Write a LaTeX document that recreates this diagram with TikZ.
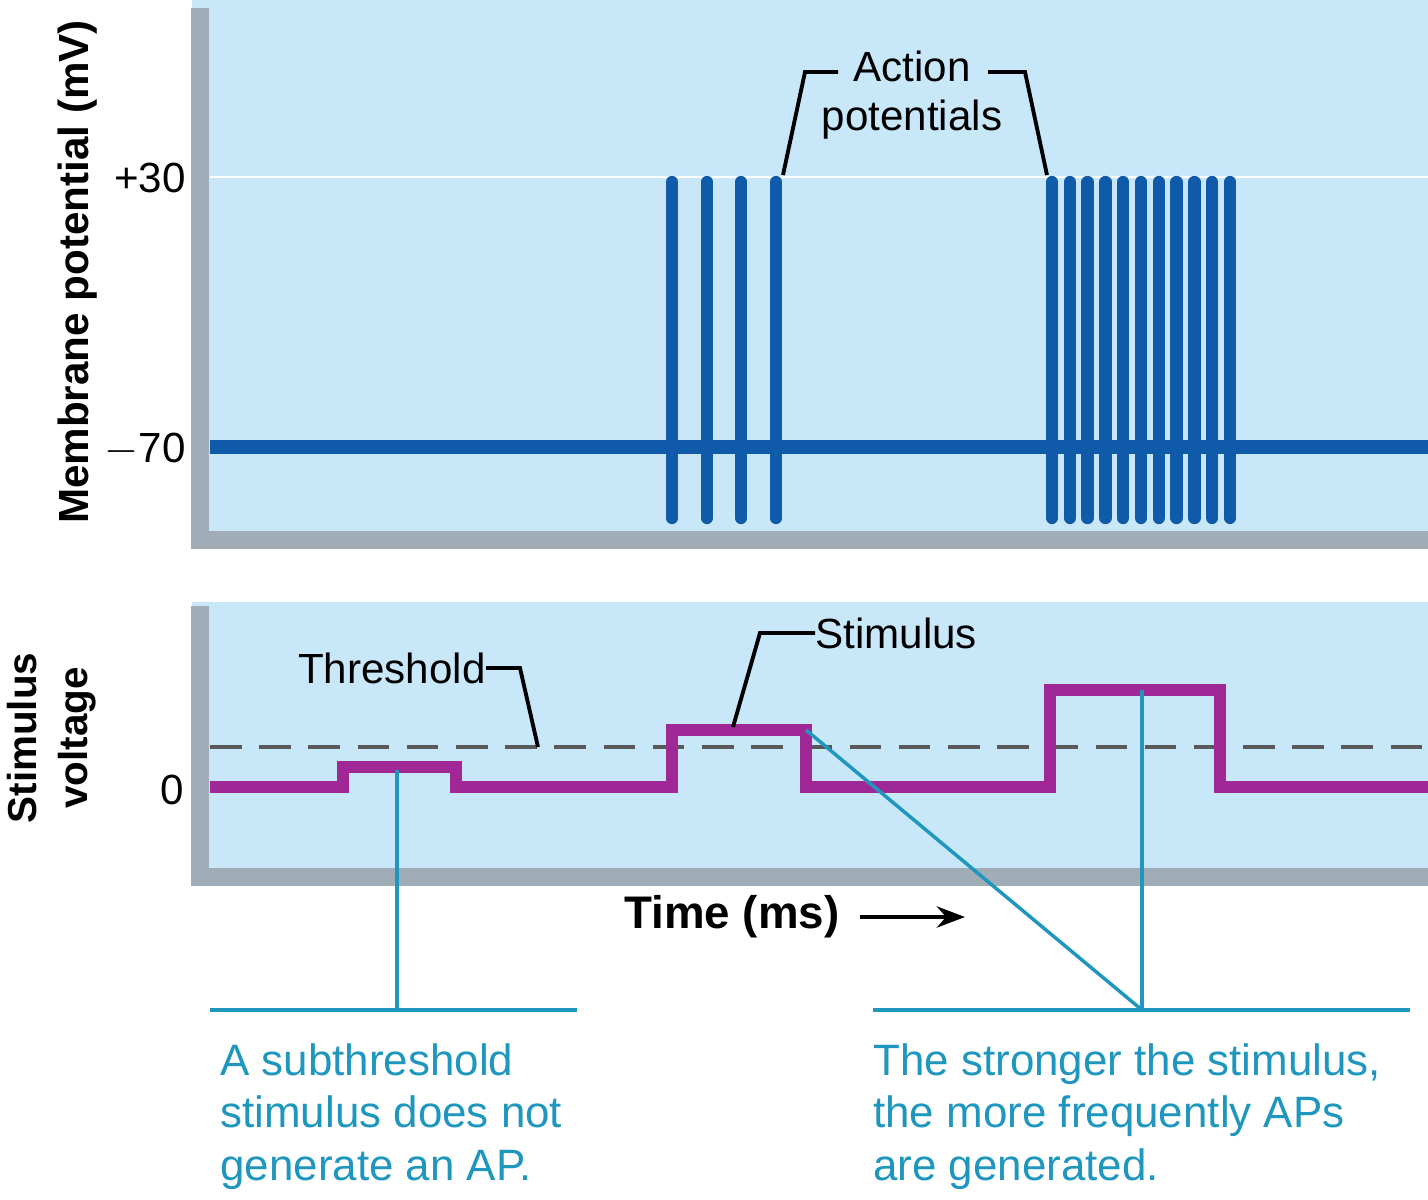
\documentclass[tikz,border=0pt]{standalone}
\usepackage{fontspec}
\setmainfont{Liberation Sans}
\usepackage{tikz}
\usetikzlibrary{arrows.meta}
\definecolor{panel}{RGB}{200,232,250}
\definecolor{frame}{RGB}{160,172,182}
\definecolor{apblue}{RGB}{16,90,170}
\definecolor{stim}{RGB}{160,40,150}
\definecolor{note}{RGB}{30,150,190}
\tikzset{
    panelbox/.style={fill=panel,draw=none},
    border/.style={draw=frame,line width=10pt},
    spike/.style={draw=apblue,line width=7pt,line cap=round},
    trace/.style={draw=stim,line width=7pt},
    lead/.style={draw=black,line width=2.2pt},
    noteline/.style={draw=note,line width=2pt},
    lbl/.style={font=\fontsize{24}{28}\selectfont,inner sep=0pt},
    notetext/.style={font=\fontsize{25}{30}\selectfont,text=note,align=left,anchor=north west,inner sep=0pt},
}
\begin{document}
\begin{tikzpicture}[x=0.02cm,y=-0.02cm]
\useasboundingbox (0,0) rectangle (1428,1200);
% panels
\fill[panelbox] (192,0) rectangle (1428,548);
\fill[panelbox] (192,602) rectangle (1428,885);
\draw[border] (200,8) -- (200,540) -- (1428,540);
\draw[border] (200,606) -- (200,877) -- (1428,877);
\draw[white,line width=1.5pt] (210,177) -- (1428,177);
% membrane potential
\draw[apblue,line width=8pt] (210,447) -- (1428,447);
\foreach \x in {672,707,741,776}
    \draw[spike] (\x,182) -- (\x,518);
\foreach \i in {0,...,10}
    \draw[spike] ({1052+17.8*\i},182) -- ({1052+17.8*\i},518);
\node[lbl,align=center] (ap) at (912,95) {Action\\potentials};
\coordinate (apa) at (783,175);
\coordinate (apb) at (1047,175);
\draw[lead] (apa) -- (805,72) -- (838,72);
\draw[lead] (988,72) -- (1025,72) -- (apb);
% stimulus
\draw[black!65,dash pattern=on 18pt off 10pt,line width=2.2pt] (210,747) -- (1428,747);
\draw[trace] (210,787) -- (343,787) -- (343,767) -- (456,767) -- (456,787) -- (672,787)
    -- (672,730) -- (806,730) -- (806,787) -- (1050,787) -- (1050,690) -- (1220,690)
    -- (1220,787) -- (1428,787);
\node[lbl,anchor=west] (st) at (815,633) {Stimulus};
\draw[lead] (733,727) -- (760,633) -- (st.west);
\node[lbl,anchor=east] (th) at (486,668) {Threshold};
\draw[lead] (th.east) -- (520,668) -- (538,747);
% axes
\node[lbl,font=\bfseries\fontsize{24}{28}\selectfont,rotate=90] (ylab) at (78,272) {Membrane potential (mV)};
\node[lbl,anchor=east] (p30) at (186,178) {+30};
\node[lbl,anchor=east] (m70) at (186,450) {$-$70};
\node[lbl,anchor=east] (zero) at (184,790) {0};
\node[lbl,font=\bfseries\fontsize{23}{29}\selectfont,rotate=90,align=center] (slab) at (52,738) {Stimulus\\voltage};
\node[lbl,font=\bfseries\fontsize{26}{30}\selectfont] (time) at (732,917) {Time (ms)};
\draw[-{Stealth[length=16pt,width=12pt]},line width=2.5pt] (860,917) -- (965,917);
% notes
\coordinate (n1) at (397,1010);
\coordinate (n2) at (1142,1010);
\draw[noteline] (397,770) -- (n1);
\draw[noteline] (210,1010) -- (577,1010);
\draw[noteline] (873,1010) -- (1410,1010);
\draw[noteline] (806,730) -- (n2);
\draw[noteline] (1142,690) -- (n2);
\node[notetext] (t1) at (220,1043) {A subthreshold\\stimulus does not\\generate an AP.};
\node[notetext] (t2) at (873,1043) {The stronger the stimulus,\\the more frequently APs\\are generated.};
\end{tikzpicture}
\end{document}
